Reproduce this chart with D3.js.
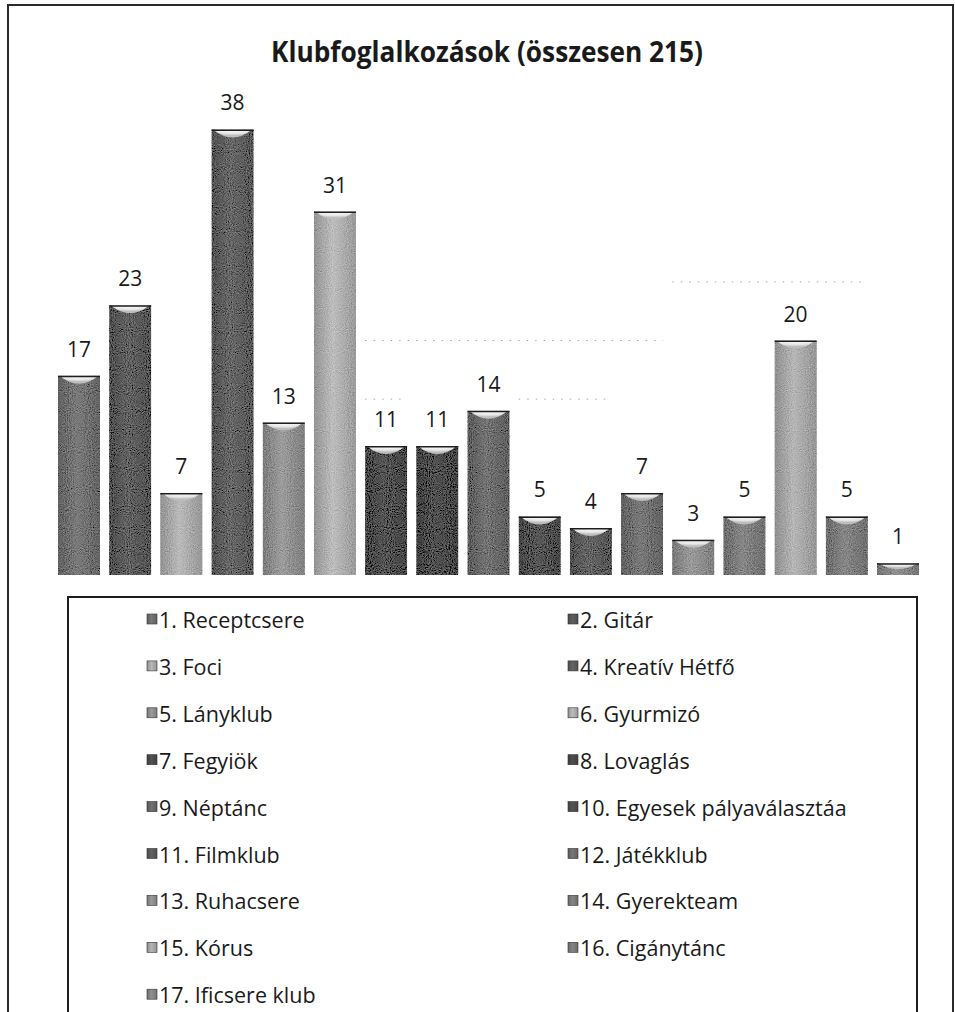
<!DOCTYPE html>
<html>
<head>
<meta charset="utf-8">
<script src="https://cdn.jsdelivr.net/npm/d3@7/dist/d3.min.js"></script>
<style>
  html, body { margin: 0; padding: 0; background: #fff; }
  svg { display: block; }
  text { font-family: "Open Sans", "DejaVu Sans", sans-serif; fill: #1a1a1a; }
</style>
</head>
<body>
<svg id="chart" width="955" height="1012"></svg>
<script>
// ---- data ----
const categories = [
  "1. Receptcsere", "2. Gitár", "3. Foci", "4. Kreatív Hétfő", "5. Lányklub",
  "6. Gyurmizó", "7. Fegyiök", "8. Lovaglás", "9. Néptánc",
  "10. Egyesek pályaválasztáa", "11. Filmklub", "12. Játékklub", "13. Ruhacsere",
  "14. Gyerekteam", "15. Kórus", "16. Cigánytánc", "17. Ificsere klub"
];
const values = [17, 23, 7, 38, 13, 31, 11, 11, 14, 5, 4, 7, 3, 5, 20, 5, 1];
const titleText = "Klubfoglalkozások (összesen 215)";
const yDomain = [0, 40];
// faint remnants of gridlines (value, first category index, last category index)
const gridValues = [15, 15, 20, 25];
const gridFrom = [6, 9, 6, 12];
const gridTo = [6, 10, 11, 15];

// ---- styles ----
const palette = ["#6e6e6e", "#575757", "#a9a9a9", "#5c5c5c", "#8e8e8e", "#acacac",
  "#4a4a4a", "#474747", "#676767", "#4d4d4d", "#5a5a5a", "#6d6d6d", "#8c8c8c",
  "#7a7a7a", "#a6a6a6", "#7a7a7a", "#838383"];

const svg = d3.select("#chart");
svg.append("rect").attr("width", 955).attr("height", 1012).attr("fill", "#fff");

const defs = svg.append("defs");
// noise filter to mimic scanned dithering
const f = defs.append("filter").attr("id", "grain")
  .attr("x", 0).attr("y", 0).attr("width", 1).attr("height", 1);
f.append("feTurbulence").attr("type", "fractalNoise").attr("baseFrequency", 0.95)
  .attr("numOctaves", 1).attr("seed", 3).attr("result", "noise");
f.append("feColorMatrix").attr("in", "noise").attr("type", "matrix")
  .attr("values", "0.33 0.33 0.33 0 0  0.33 0.33 0.33 0 0  0.33 0.33 0.33 0 0  0 0 0 0 1")
  .attr("result", "gray");
f.append("feComposite").attr("in", "SourceGraphic").attr("in2", "gray")
  .attr("operator", "arithmetic").attr("k1", 0).attr("k2", 1).attr("k3", 0.7).attr("k4", -0.34)
  .attr("result", "mix");
f.append("feComposite").attr("in", "mix").attr("in2", "SourceAlpha").attr("operator", "in");

const color = d3.scaleOrdinal(categories, palette);

// per-bar horizontal gradients
categories.forEach((c, i) => {
  const base = d3.color(color(c));
  const g = defs.append("linearGradient").attr("id", "bg" + i)
    .attr("x1", 0).attr("x2", 1).attr("y1", 0).attr("y2", 0);
  g.append("stop").attr("offset", "0%").attr("stop-color", base.darker(0.45));
  g.append("stop").attr("offset", "45%").attr("stop-color", base.brighter(0.25));
  g.append("stop").attr("offset", "100%").attr("stop-color", base.darker(0.35));
});
const capGrad = defs.append("radialGradient").attr("id", "cap")
  .attr("cx", "50%").attr("cy", "0%").attr("r", "75%");
capGrad.append("stop").attr("offset", "0%").attr("stop-color", "#ffffff");
capGrad.append("stop").attr("offset", "70%").attr("stop-color", "#e6e6e6");
capGrad.append("stop").attr("offset", "100%").attr("stop-color", "#bdbdbd");

// frame
svg.append("path").attr("d", "M8,1012 V5 H953 V1012")
  .attr("fill", "none").attr("stroke", "#2a2a2a").attr("stroke-width", 2);

// title
svg.append("text").attr("x", 487).attr("y", 62).attr("text-anchor", "middle")
  .attr("font-size", 28).attr("font-weight", 700)
  .attr("textLength", 432).attr("lengthAdjust", "spacingAndGlyphs")
  .text(titleText);

// scales
const x = d3.scaleBand().domain(categories).range([53.4, 923.6])
  .paddingInner(0.18).paddingOuter(0.09);
const y = d3.scaleLinear().domain(yDomain).range([575, 106]);

// gridline fragments
svg.append("g").selectAll("line").data(gridValues).join("line")
  .attr("x1", (v, i) => x(categories[gridFrom[i]]))
  .attr("x2", (v, i) => x(categories[gridTo[i]]) + x.bandwidth())
  .attr("y1", v => y(v)).attr("y2", v => y(v))
  .attr("stroke", "#a8a8a8").attr("stroke-width", 1)
  .attr("stroke-dasharray", "1.5,7");

// bars
const bars = svg.append("g").selectAll("g").data(values).join("g");
bars.append("rect")
  .attr("x", (d, i) => x(categories[i]))
  .attr("y", d => y(d))
  .attr("width", x.bandwidth())
  .attr("height", d => y(0) - y(d))
  .attr("fill", (d, i) => `url(#bg${i})`)
  .attr("filter", "url(#grain)");
bars.append("path")
  .attr("d", (d, i) => {
    const x0 = x(categories[i]), w = x.bandwidth(), t = y(d);
    const h = Math.min(16, y(0) - t);
    return `M${x0 + 1.5},${t} L${x0 + w - 1.5},${t} Q${x0 + w / 2},${t + h} ${x0 + 1.5},${t} Z`;
  })
  .attr("fill", "url(#cap)");
bars.append("line")
  .attr("x1", (d, i) => x(categories[i]))
  .attr("x2", (d, i) => x(categories[i]) + x.bandwidth())
  .attr("y1", d => y(d) + 0.75).attr("y2", d => y(d) + 0.75)
  .attr("stroke", "#1e1e1e").attr("stroke-width", 1.5);

// value labels
svg.append("g").selectAll("text").data(values).join("text")
  .attr("x", (d, i) => x(categories[i]) + x.bandwidth() / 2)
  .attr("y", d => y(d) - 19)
  .attr("text-anchor", "middle").attr("font-size", 21)
  .text(d => d);

// legend
svg.append("rect").attr("x", 68).attr("y", 597).attr("width", 849).attr("height", 500)
  .attr("fill", "none").attr("stroke", "#1e1e1e").attr("stroke-width", 2);

const colX = [147, 568];
const rowY = i => 628 + Math.floor(i / 2) * 46.9;
const leg = svg.append("g").selectAll("g").data(categories).join("g")
  .attr("transform", (c, i) => `translate(${colX[i % 2]},${rowY(i)})`);
leg.append("rect").attr("x", 0).attr("y", -14).attr("width", 10).attr("height", 10)
  .attr("fill", (c, i) => `url(#bg${i})`).attr("stroke", "#333").attr("stroke-width", 0.6);
leg.append("text").attr("x", 12).attr("y", 0).attr("font-size", 21.5).text(c => c);
</script>
</body>
</html>
